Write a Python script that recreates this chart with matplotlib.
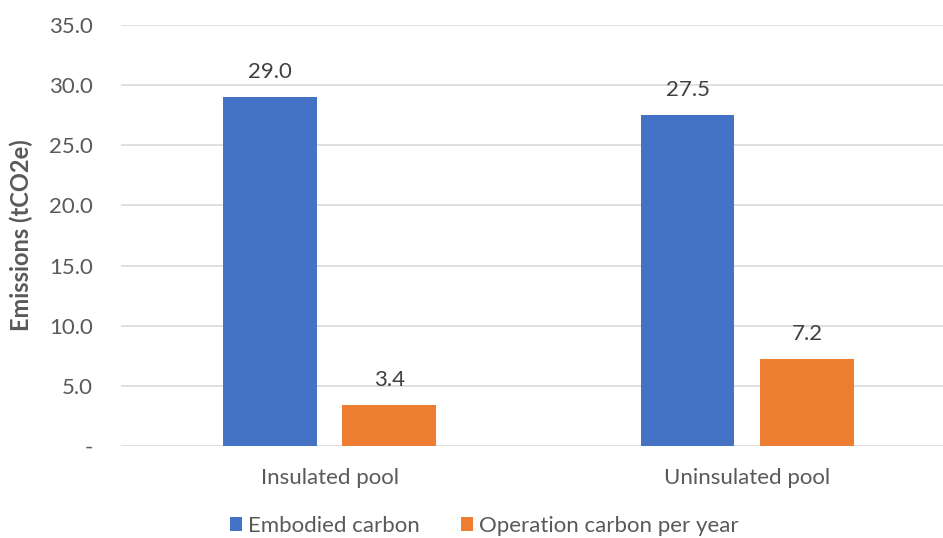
import numpy as np
import matplotlib.pyplot as plt
from matplotlib.ticker import FuncFormatter

plt.rcParams['font.family'] = ['Lato', 'DejaVu Sans']

categories = ['Insulated pool', 'Uninsulated pool']
embodied = [29.0, 27.5]
operation = [3.4, 7.2]
series_names = ['Embodied carbon', 'Operation carbon per year']

blue = '#4472C4'
orange = '#ED7D31'
txt = '#595959'

fig = plt.figure(figsize=(9.43, 5.38), dpi=100)
ax = fig.add_axes([0.1283, 0.171, 0.8717, 0.7825])

x = np.arange(len(categories))
w = 0.225
off = 0.143
b1 = ax.bar(x - off, embodied, w, color=blue, label=series_names[0], zorder=2)
b2 = ax.bar(x + off, operation, w, color=orange, label=series_names[1], zorder=2)

for bars, vals in ((b1, embodied), (b2, operation)):
    for rect, v in zip(bars, vals):
        ax.annotate(f'{v:.1f}', (rect.get_x() + rect.get_width() / 2, v),
                    xytext=(0, 18), textcoords='offset points',
                    ha='center', va='center', fontsize=16, color='#404040')

ax.set_xlim(-0.5, 1.469)
ax.set_ylim(0, 35)
ax.set_yticks(np.arange(0, 36, 5))
ax.yaxis.set_major_formatter(FuncFormatter(lambda v, p: '-' if v == 0 else f'{v:.1f}'))
ax.set_xticks(x)
ax.set_xticklabels(categories)
ax.tick_params(axis='both', length=0, labelsize=16, colors=txt)
ax.tick_params(axis='y', pad=20)
ax.tick_params(axis='x', pad=16)
ax.grid(axis='y', color='#D9D9D9', linewidth=1.2, zorder=0)
for s in ax.spines.values():
    s.set_visible(False)

ax.set_ylabel('Emissions (tCO2e)', fontsize=17, fontweight='bold', color=txt)
ax.yaxis.set_label_coords(-0.107, 0.5)

fig.legend(loc='center', bbox_to_anchor=(484 / 943, 1 - 526 / 538), ncol=2,
           frameon=False, fontsize=16, handlelength=0.55, handleheight=0.55,
           handletextpad=0.27, columnspacing=1.85, labelcolor=txt)

fig.savefig('out.png', dpi=100)
